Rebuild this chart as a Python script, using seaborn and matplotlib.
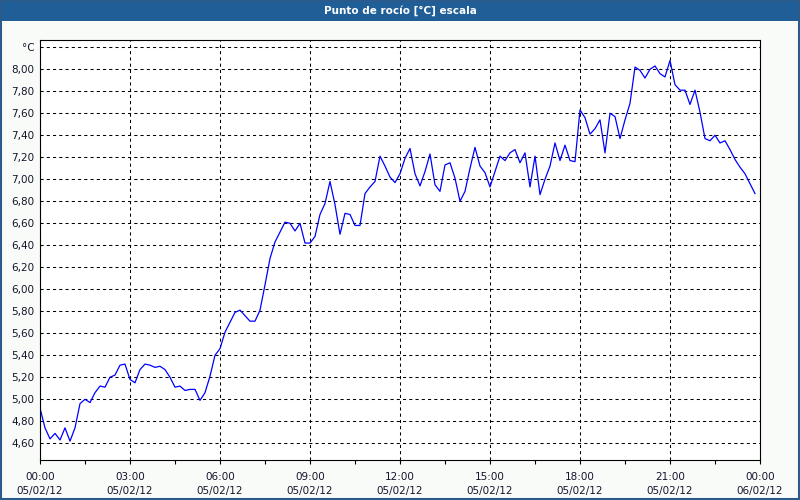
import numpy as np
import pandas as pd
import matplotlib
matplotlib.use("Agg")
import matplotlib.pyplot as plt
from matplotlib.patches import Rectangle
import seaborn as sns

# ---- data (10-minute readings, 05/02/12 00:00 .. 23:50) ----
dew_point = [
    4.92, 4.74, 4.64, 4.69, 4.63, 4.74, 4.62, 4.74, 4.96, 5.00, 4.97, 5.06,
    5.12, 5.11, 5.20, 5.22, 5.31, 5.32, 5.18, 5.15, 5.27, 5.32, 5.31, 5.29,
    5.30, 5.27, 5.20, 5.11, 5.12, 5.08, 5.09, 5.09, 4.99, 5.06, 5.21, 5.40,
    5.46, 5.61, 5.70, 5.79, 5.81, 5.76, 5.71, 5.71, 5.81, 6.04, 6.28, 6.43,
    6.52, 6.61, 6.60, 6.53, 6.60, 6.42, 6.42, 6.48, 6.68, 6.78, 6.98, 6.77,
    6.50, 6.69, 6.68, 6.58, 6.58, 6.87, 6.93, 6.98, 7.21, 7.12, 7.02, 6.97,
    7.05, 7.19, 7.28, 7.05, 6.94, 7.07, 7.23, 6.95, 6.89, 7.13, 7.15, 7.01,
    6.80, 6.89, 7.10, 7.29, 7.12, 7.06, 6.93, 7.07, 7.21, 7.17, 7.24, 7.27,
    7.15, 7.24, 6.93, 7.21, 6.86, 7.00, 7.12, 7.33, 7.17, 7.31, 7.17, 7.16,
    7.63, 7.56, 7.41, 7.46, 7.54, 7.24, 7.60, 7.57, 7.37, 7.54, 7.69, 8.02,
    7.99, 7.92, 8.00, 8.03, 7.96, 7.93, 8.08, 7.86, 7.81, 7.81, 7.68, 7.81,
    7.61, 7.37, 7.35, 7.40, 7.33, 7.35, 7.27, 7.18, 7.11, 7.05, 6.96, 6.87,
]
start_time = "2012-02-05 00:00"
sample_freq = "10min"

x_tick_hours = [0, 3, 6, 9, 12, 15, 18, 21, 24]
x_tick_labels = ["00:00\n05/02/12", "03:00\n05/02/12", "06:00\n05/02/12",
                 "09:00\n05/02/12", "12:00\n05/02/12", "15:00\n05/02/12",
                 "18:00\n05/02/12", "21:00\n05/02/12", "00:00\n06/02/12"]
y_ticks = [4.6, 4.8, 5.0, 5.2, 5.4, 5.6, 5.8, 6.0, 6.2, 6.4, 6.6, 6.8,
           7.0, 7.2, 7.4, 7.6, 7.8, 8.0, 8.2]
y_tick_labels = ["4,60", "4,80", "5,00", "5,20", "5,40", "5,60", "5,80",
                 "6,00", "6,20", "6,40", "6,60", "6,80", "7,00", "7,20",
                 "7,40", "7,60", "7,80", "8,00", "°C"]
title = "Punto de rocío [°C] escala"

times = pd.date_range(start_time, periods=len(dew_point), freq=sample_freq)
df = pd.DataFrame({
    "hours": (times - times[0]) / pd.Timedelta(hours=1),
    "value": dew_point,
})

# ---- style ----
bg = "#f9fbf9"
txt = "#14142a"
plt.rcParams["font.family"] = ["DejaVu Sans"]

fig = plt.figure(figsize=(8, 5), dpi=100, facecolor=bg)
ax = fig.add_axes([40 / 800, 40 / 500, 720 / 800, 420 / 500])
ax.set_facecolor("white")

sns.lineplot(data=df, x="hours", y="value", ax=ax, color="#0000ff",
             linewidth=0.9, legend=False)

ax.set_xlim(0, 24)
ax.set_ylim(4.448, 8.266)

ax.set_xticks(x_tick_hours)
ax.set_xticklabels(x_tick_labels, fontsize=7.5, color=txt, linespacing=1.45)
ax.set_xticks([h + 1.5 for h in x_tick_hours[:-1]], minor=True)
ax.tick_params(axis="x", which="both", length=3, width=0.8, color="black",
               direction="out", pad=6)

ax.set_yticks(y_ticks)
ax.set_yticklabels(y_tick_labels, fontsize=7.5, color=txt)
ax.tick_params(axis="y", length=0, pad=4)

ax.set_xlabel("")
ax.set_ylabel("")

ax.grid(True, which="major", color="black", linestyle=(0, (3, 3)),
        linewidth=0.75)
ax.set_axisbelow(True)
for s in ax.spines.values():
    s.set_color("black")
    s.set_linewidth(0.8)

# title bar
fig.patches.append(Rectangle((0, 1 - 21 / 500), 1, 21 / 500,
                             transform=fig.transFigure, facecolor="#1f5e96",
                             edgecolor="none", zorder=0))
fig.text(0.5, 1 - 10.5 / 500, title, ha="center", va="center",
         color="white", fontsize=7.5, fontweight="bold")
# outer border
fig.patches.append(Rectangle((0.0008, 0.0012), 0.9984, 0.9976,
                             transform=fig.transFigure, facecolor="none",
                             edgecolor="#2b5b8c", linewidth=1.5, zorder=5))

fig.savefig("out.png", dpi=100, facecolor=bg)
